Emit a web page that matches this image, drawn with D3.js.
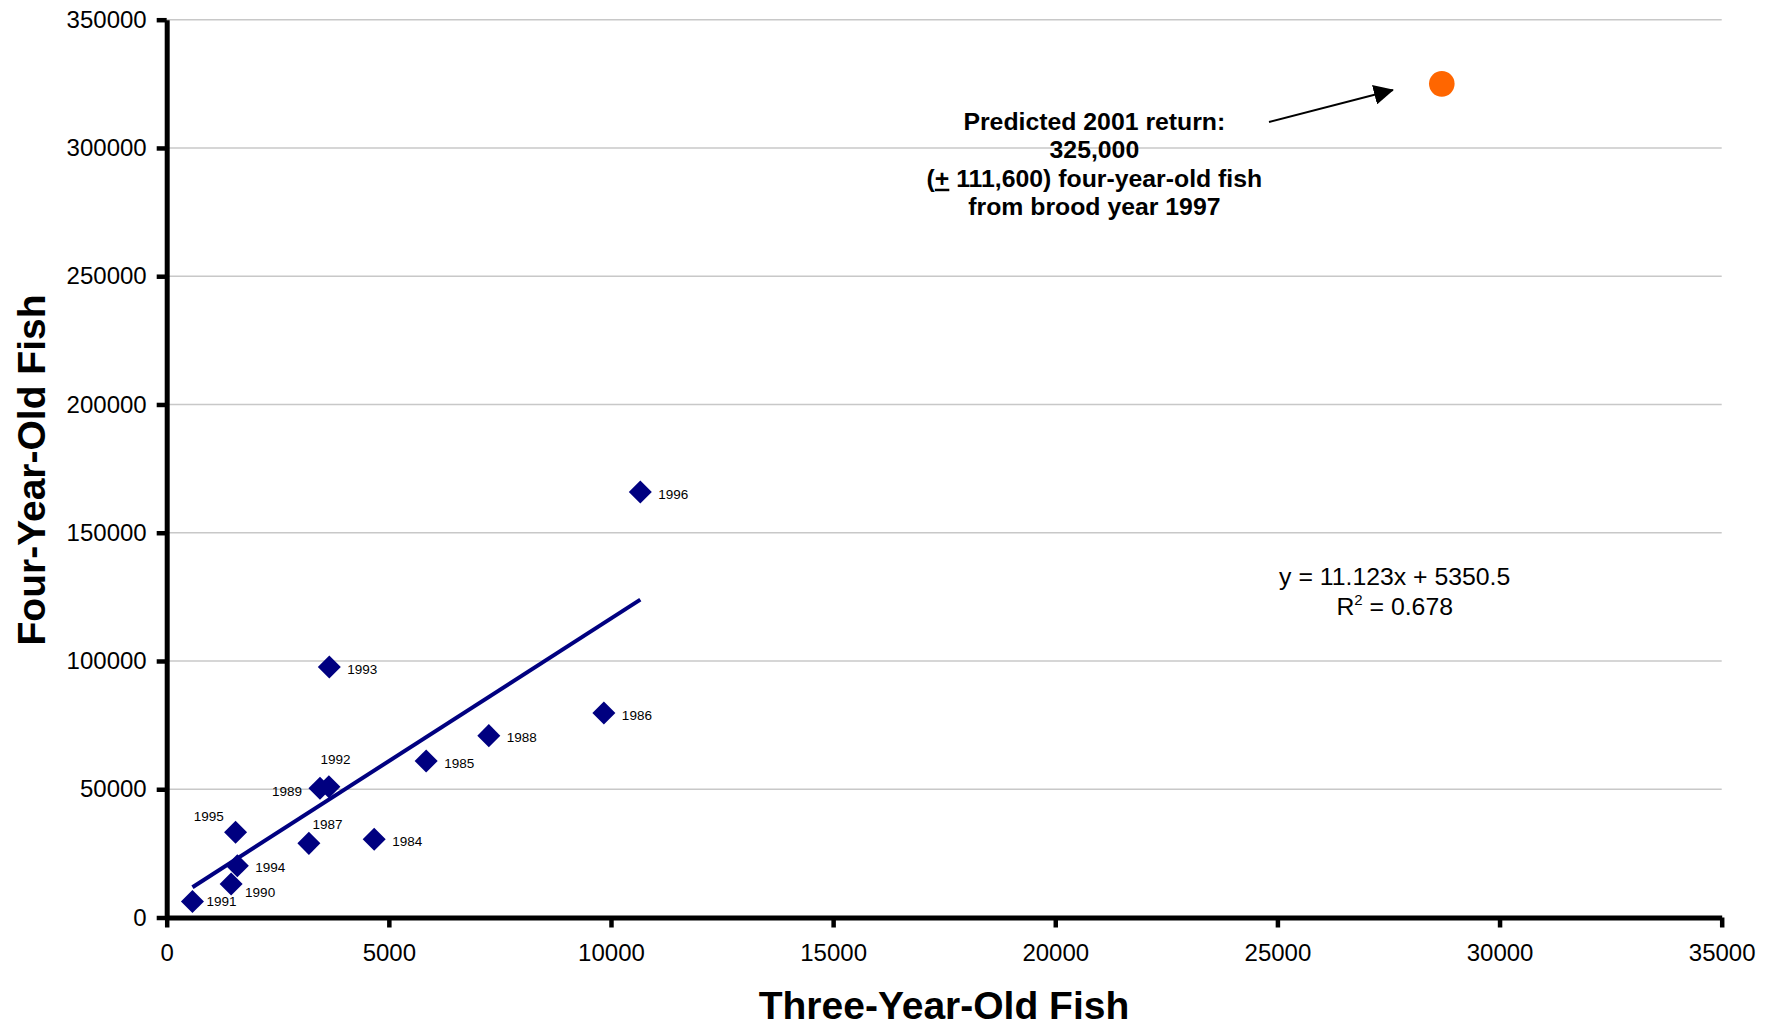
<!DOCTYPE html>
<html>
<head>
<meta charset="utf-8">
<script src="https://cdn.jsdelivr.net/npm/d3@7"></script>
<style>
  body { margin: 0; background: #fff; }
  svg { display: block; font-family: "Liberation Sans", Arial, sans-serif; }
</style>
</head>
<body>
<svg id="chart" width="1778" height="1026"></svg>
<script>
// brood years with three-year-old and four-year-old returns
const years = [1984, 1985, 1986, 1987, 1988, 1989, 1990, 1991, 1992, 1993, 1994, 1995, 1996];
const threeYear = [4670, 5840, 9840, 3200, 7250, 3450, 1450, 580, 3650, 3660, 1590, 1550, 10660];
const fourYear = [30500, 61000, 79700, 28900, 70900, 50400, 13100, 6200, 51000, 97700, 20200, 33200, 165900];

// trendline as printed on the chart
const slope = 11.123;
const intercept = 5350.5;
const rSquared = 0.678;

// predicted 2001 return
const predicted = {x: 28700, y: 325000};

const xTicks = [0, 5000, 10000, 15000, 20000, 25000, 30000, 35000];
const yTicks = [0, 50000, 100000, 150000, 200000, 250000, 300000, 350000];

const noteLines = ['Predicted 2001 return:', '325,000', null, 'from brood year 1997'];

(() => {
  const svg = d3.select('#chart'),
      margin = {left: 166.7, top: 19.7, right: 56.3, bottom: 108.5},
      width = +svg.attr('width') - margin.left - margin.right,
      height = +svg.attr('height') - margin.top - margin.bottom,
      navy = '#000080';

  const x = d3.scaleLinear().domain([0, 35000]).range([0, width]);
  const y = d3.scaleLinear().domain([0, 350000]).range([height, 0]);

  const g = svg.append('g')
      .attr('transform', `translate(${margin.left},${margin.top})`);

  // gridlines
  g.append('g')
      .selectAll('line')
      .data(yTicks.slice(1))
      .enter().append('line')
      .attr('x1', 0)
      .attr('x2', width)
      .attr('y1', d => y(d))
      .attr('y2', d => y(d))
      .attr('stroke', '#c8c8c8')
      .attr('stroke-width', 1.4);

  // axes
  const yAxis = g.append('g')
      .call(d3.axisLeft(y).tickValues(yTicks).tickFormat(d3.format('d'))
          .tickSize(10).tickSizeOuter(0).tickPadding(10));
  const xAxis = g.append('g')
      .attr('transform', `translate(0,${height})`)
      .call(d3.axisBottom(x).tickValues(xTicks).tickFormat(d3.format('d'))
          .tickSize(10).tickSizeOuter(0).tickPadding(16));

  [xAxis, yAxis].forEach(a => {
    a.select('.domain').attr('stroke', '#000').attr('stroke-width', 5);
    a.selectAll('.tick line').attr('stroke', '#000').attr('stroke-width', 4.5);
    a.selectAll('.tick text')
        .attr('fill', '#000')
        .attr('font-size', 24)
        .attr('font-family', '"Liberation Sans", Arial, sans-serif');
  });

  // trendline over the range of the data
  const xMin = d3.min(threeYear), xMax = d3.max(threeYear);
  g.append('line')
      .attr('x1', x(xMin))
      .attr('y1', y(slope * xMin + intercept))
      .attr('x2', x(xMax))
      .attr('y2', y(slope * xMax + intercept))
      .attr('stroke', navy)
      .attr('stroke-width', 4);

  const points = years.map((yr, i) => ({year: yr, x: threeYear[i], y: fourYear[i]}));

  g.append('g')
      .selectAll('path')
      .data(points)
      .enter().append('path')
      .attr('d', d3.symbol().type(d3.symbolSquare).size(265))
      .attr('transform', d => `translate(${x(d.x)},${y(d.y)})rotate(45)`)
      .attr('fill', navy);

  // label placement per year: [dx, dy, anchor]
  const labelOffset = {
    1987: [3.7, -19, 'start'],
    1989: [-18, 3.5, 'end'],
    1990: [14, 8, 'start'],
    1991: [14, 0, 'start'],
    1992: [6.6, -27.4, 'middle'],
    1995: [-11.7, -16.3, 'end']
  };

  g.append('g')
      .selectAll('text')
      .data(points)
      .enter().append('text')
      .attr('x', d => x(d.x) + (labelOffset[d.year] || [18])[0])
      .attr('y', d => y(d.y) + (labelOffset[d.year] || [0, 2])[1])
      .attr('dy', '0.35em')
      .attr('text-anchor', d => (labelOffset[d.year] || [0, 0, 'start'])[2])
      .attr('font-size', 13.5)
      .text(d => d.year);

  // predicted point
  g.append('circle')
      .attr('cx', x(predicted.x))
      .attr('cy', y(predicted.y))
      .attr('r', 12.8)
      .attr('fill', '#ff6600');

  // arrow
  svg.append('defs').append('marker')
      .attr('id', 'head')
      .attr('viewBox', '0 0 20 20')
      .attr('refX', 19)
      .attr('refY', 10)
      .attr('markerWidth', 20)
      .attr('markerHeight', 20)
      .attr('markerUnits', 'userSpaceOnUse')
      .attr('orient', 'auto')
      .append('path')
      .attr('d', 'M0,0L20,10L0,20Z')
      .attr('fill', '#000');

  g.append('line')
      .attr('x1', x(24810))
      .attr('y1', y(310100))
      .attr('x2', x(27600))
      .attr('y2', y(322600))
      .attr('stroke', '#000')
      .attr('stroke-width', 2)
      .attr('marker-end', 'url(#head)');

  // annotation
  const note = g.append('text')
      .attr('text-anchor', 'middle')
      .attr('font-size', 24.8)
      .attr('font-weight', 'bold');
  const noteX = x(20880), noteY = y(307100);
  noteLines.forEach((line, i) => {
    const t = note.append('tspan')
        .attr('x', noteX)
        .attr('y', noteY + i * 28.5);
    if (line === null) {
      t.append('tspan').text('(');
      t.append('tspan').style('text-decoration', 'underline').text('+');
      t.append('tspan').text(' 111,600) four-year-old fish');
    } else {
      t.text(line);
    }
  });

  // equation
  const eq = g.append('text')
      .attr('text-anchor', 'middle')
      .attr('font-size', 24.8);
  const eqX = x(27640), eqY = y(129640);
  eq.append('tspan')
      .attr('x', eqX).attr('y', eqY)
      .text(`y = ${slope}x + ${intercept}`);
  const r2 = eq.append('tspan').attr('x', eqX).attr('y', eqY + 30);
  r2.append('tspan').text('R');
  r2.append('tspan').attr('font-size', 15).attr('dy', -10).text('2');
  r2.append('tspan').attr('dy', 10).text(` = ${rSquared}`);

  // axis titles
  svg.append('text')
      .attr('x', 944)
      .attr('y', 1019)
      .attr('text-anchor', 'middle')
      .attr('font-size', 39)
      .attr('font-weight', 'bold')
      .text('Three-Year-Old Fish');

  svg.append('text')
      .attr('transform', 'translate(45,470)rotate(-90)')
      .attr('text-anchor', 'middle')
      .attr('font-size', 39)
      .attr('font-weight', 'bold')
      .text('Four-Year-Old Fish');
})();
</script>
</body>
</html>
